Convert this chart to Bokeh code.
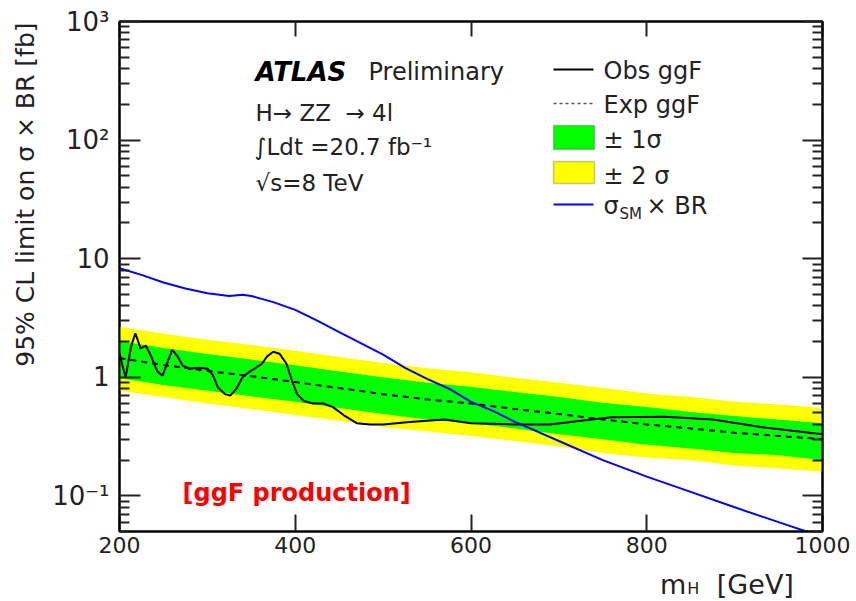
import math
from bokeh.plotting import figure
from bokeh.layouts import row, column
from bokeh.models import (FixedTicker, LinearAxis, LogAxis, Label, CustomJSTickFormatter,
                          BoxAnnotation)
from bokeh.core.properties import value
from bokeh.embed import file_html
from bokeh.resources import INLINE

# ---------------- data ----------------
mass_band = [200, 250, 300, 350, 400, 450, 500, 550, 600, 650, 700, 750, 800, 850, 900, 950, 1000]
exp_limit = [1.45, 1.27, 1.13, 1.02, 0.91, 0.81, 0.72, 0.65, 0.60, 0.54, 0.49, 0.44, 0.40, 0.37, 0.34, 0.32, 0.30]
plus1 = [2.02, 1.76, 1.57, 1.41, 1.26, 1.12, 1.00, 0.90, 0.83, 0.75, 0.68, 0.61, 0.56, 0.51, 0.47, 0.44, 0.41]
minus1 = [0.98, 0.86, 0.77, 0.69, 0.62, 0.55, 0.49, 0.44, 0.41, 0.37, 0.33, 0.30, 0.27, 0.25, 0.23, 0.22, 0.20]
plus2 = [2.66, 2.33, 2.07, 1.87, 1.67, 1.48, 1.32, 1.19, 1.10, 0.99, 0.90, 0.81, 0.73, 0.68, 0.62, 0.59, 0.55]
minus2 = [0.77, 0.68, 0.60, 0.54, 0.48, 0.43, 0.38, 0.35, 0.32, 0.29, 0.26, 0.23, 0.21, 0.20, 0.18, 0.17, 0.16]

mass_obs = [200, 204, 207, 213, 218, 224, 230, 236, 243, 249, 254, 260, 266, 272, 280, 290, 300,
            306, 312, 320, 326, 333, 340, 347, 355, 362, 368, 375, 382, 390, 396, 402, 410,
            420, 432, 443, 455, 470, 485, 500, 530, 570, 600, 650, 690, 725, 760, 820, 875,
            930, 1000]
obs_limit = [1.6, 1.2, 1.0, 1.8, 2.35, 1.75, 1.85, 1.5, 1.12, 1.03, 1.3, 1.7, 1.5, 1.25, 1.18, 1.2, 1.18,
             1.05, 0.82, 0.72, 0.70, 0.80, 1.0, 1.1, 1.2, 1.3, 1.5, 1.64, 1.58, 1.3, 0.95, 0.72, 0.63,
             0.60, 0.60, 0.56, 0.48, 0.41, 0.40, 0.40, 0.42, 0.44, 0.41, 0.40, 0.40, 0.43, 0.46, 0.465, 0.44,
             0.38, 0.33]

mass_sm = [200, 225, 250, 275, 300, 325, 340, 350, 375, 400, 425, 450, 475, 500, 525, 550, 575,
           600, 625, 650, 675, 700, 750, 800, 850, 900, 950, 1000]
sm_xsec = [8.3, 7.3, 6.3, 5.6, 5.1, 4.85, 4.95, 4.85, 4.3, 3.7, 3.0, 2.4, 1.93, 1.55, 1.2, 0.97, 0.80,
           0.62, 0.52, 0.42, 0.35, 0.29, 0.20, 0.145, 0.108, 0.080, 0.060, 0.045]

y_major = [0.1, 1, 10, 100, 1000]
y_major_labels = ["10⁻¹", "1", "10", "10²", "10³"]
x_major = [200, 400, 600, 800, 1000]

y_title = "95% CL limit on σ × BR [fb]"

# ---------------- geometry ----------------
W, H = 856, 601
YSTRIP = 45            # strip on the left that holds the y title
XSTRIP = 39            # strip at the bottom that holds the x title
FL, FR, FT, FB = 119, 822, 21, 531   # frame edges in page pixels
XMIN, XMAX, YMIN, YMAX = 200, 1000, 0.05, 1000
FONT = "DejaVu Sans"
INK = "#222222"

main_w, main_h = W - YSTRIP, H - XSTRIP
p = figure(width=main_w, height=main_h, x_range=(XMIN, XMAX), y_range=(YMIN, YMAX), y_axis_type="log",
           output_backend="svg", toolbar_location=None, title=None,
           min_border_left=FL - YSTRIP, min_border_right=W - FR, min_border_top=FT,
           min_border_bottom=main_h - FB)
p.xgrid.visible = False
p.ygrid.visible = False
p.outline_line_color = "black"
p.outline_line_width = 2
p.background_fill_color = "white"
p.border_fill_color = "white"


def X(px):
    return XMIN + (px - FL) / (FR - FL) * (XMAX - XMIN)


def Y(py):
    l0, l1 = math.log10(YMIN), math.log10(YMAX)
    return 10 ** (l1 - (py - FT) / (FB - FT) * (l1 - l0))


minor = [k * 10.0 ** e for e in range(-2, 3) for k in range(2, 10)]
minor = [m for m in minor if YMIN <= m <= YMAX]
yticker = FixedTicker(ticks=y_major, minor_ticks=minor)
xticker = FixedTicker(ticks=x_major, minor_ticks=[])
blank = CustomJSTickFormatter(code="return ''")


def style_axis(ax, major_len, minor_len):
    ax.axis_line_color = "black"
    ax.axis_line_width = 2
    ax.major_tick_in = major_len
    ax.major_tick_out = 0
    ax.minor_tick_in = minor_len
    ax.minor_tick_out = 0
    ax.major_tick_line_width = 2
    ax.minor_tick_line_width = 2
    ax.major_tick_line_color = INK
    ax.minor_tick_line_color = INK


yax = p.yaxis[0]
yax.ticker = yticker
style_axis(yax, 21, 10)
yax.major_label_overrides = dict(zip(y_major, y_major_labels))
yax.major_label_text_font = FONT
yax.major_label_text_font_size = "26px"
yax.major_label_text_color = INK
yax.major_label_standoff = 10

xax = p.xaxis[0]
xax.ticker = xticker
style_axis(xax, 17, 0)
xax.major_label_text_font = FONT
xax.major_label_text_font_size = "22px"
xax.major_label_text_color = INK
xax.major_label_standoff = 5

top_ax = LinearAxis(ticker=xticker, formatter=blank)
style_axis(top_ax, 15, 0)
p.add_layout(top_ax, "above")
right_ax = LogAxis(ticker=yticker, formatter=blank)
style_axis(right_ax, 20, 10)
p.add_layout(right_ax, "right")

# ---------------- data glyphs ----------------
p.varea(x=mass_band, y1=minus2, y2=plus2, fill_color="#ffff00")
p.varea(x=mass_band, y1=minus1, y2=plus1, fill_color="#00ff00")
p.line(mass_band, exp_limit, line_color="black", line_width=2, line_dash="6 5")
p.line(mass_obs, obs_limit, line_color="black", line_width=2)
p.line(mass_sm, sm_xsec, line_color="#0000ff", line_width=2)


# ---------------- texts inside the frame ----------------
def lab(px, py, text, size, color=INK, style="normal", align="left", baseline="alphabetic"):
    p.add_layout(Label(x=X(px), y=Y(py), text=text, text_font=FONT, text_font_size=size,
                       text_color=color, text_font_style=style, text_align=align,
                       text_baseline=baseline))


lab(255, 71, "ATLAS", "26px", color="black", style="bold italic")
lab(368, 71, "Preliminary", "24px")
lab(255, 112, "H→ ZZ\u00a0\u00a0→ 4l", "23px")
lab(254, 146, "∫Ldt =20.7 fb⁻¹", "23px")
lab(255, 182, "√s=8 TeV", "23px")

lab(182, 492, "[ggF production]", "24px", color="#ff0000", style="bold")

# legend
LX0, LX1 = 553, 593
p.segment(x0=[X(LX0)], y0=[Y(69)], x1=[X(LX1)], y1=[Y(69)], line_color="black", line_width=2)
p.segment(x0=[X(LX0)], y0=[Y(103)], x1=[X(LX1)], y1=[Y(103)], line_color="#555555", line_width=1.5,
          line_dash="3 3")
p.add_layout(BoxAnnotation(left=X(LX0), right=X(LX1 + 1), top=Y(125), bottom=Y(149),
                           fill_color="#00ff00", fill_alpha=1, line_color="#444444", line_width=1.5))
p.add_layout(BoxAnnotation(left=X(LX0), right=X(LX1 + 1), top=Y(161), bottom=Y(183),
                           fill_color="#ffff00", fill_alpha=1, line_color="#444444", line_width=1.5))
p.segment(x0=[X(LX0)], y0=[Y(204)], x1=[X(LX1)], y1=[Y(204)], line_color="#0000ff", line_width=2)

lab(603, 70, "Obs ggF", "24px")
lab(603, 104, "Exp ggF", "24px")
lab(603, 139, "± 1σ", "24px")
lab(603, 175, "± 2 σ", "24px")
lab(603, 205, "σ", "24px")
lab(619, 213, "SM", "15px")
lab(646, 205, "× BR", "24px")


# ---------------- axis titles in their own strips ----------------
def strip(width, height, x0, y0):
    s = figure(width=width, height=height, x_range=(x0, x0 + width), y_range=(y0, y0 + height),
               output_backend="svg", toolbar_location=None, title=None, min_border=0,
               x_axis_location=None, y_axis_location=None)
    s.xgrid.visible = False
    s.ygrid.visible = False
    s.outline_line_color = None
    s.background_fill_color = "white"
    s.border_fill_color = "white"
    return s


# left strip: page x 0..YSTRIP, y measured upwards from page bottom
ys = strip(YSTRIP, H, 0, 0)
ys.text(x=[10], y=[H - 22], text=[y_title], angle=math.pi / 2, text_align="right",
        text_baseline="top", text_font=value(FONT), text_font_size="25px", text_color=INK)

# bottom strip: page x YSTRIP..W, y measured upwards from page bottom
xs = strip(W - YSTRIP, XSTRIP, YSTRIP, 0)
xs.text(x=[699], y=[H - 584], text=["m"], text_align="right", text_baseline="alphabetic",
        text_font=value(FONT), text_font_size="27px", text_color=INK)
xs.text(x=[700], y=[H - 588], text=["H"], text_align="left", text_baseline="alphabetic",
        text_font=value(FONT), text_font_size="16px", text_color=INK)
xs.text(x=[823], y=[H - 584], text=["[GeV]"], text_align="right", text_baseline="alphabetic",
        text_font=value(FONT), text_font_size="27px", text_color=INK)

layout = row(ys, column(p, xs))
open("out.html", "w").write(file_html(layout, INLINE))
